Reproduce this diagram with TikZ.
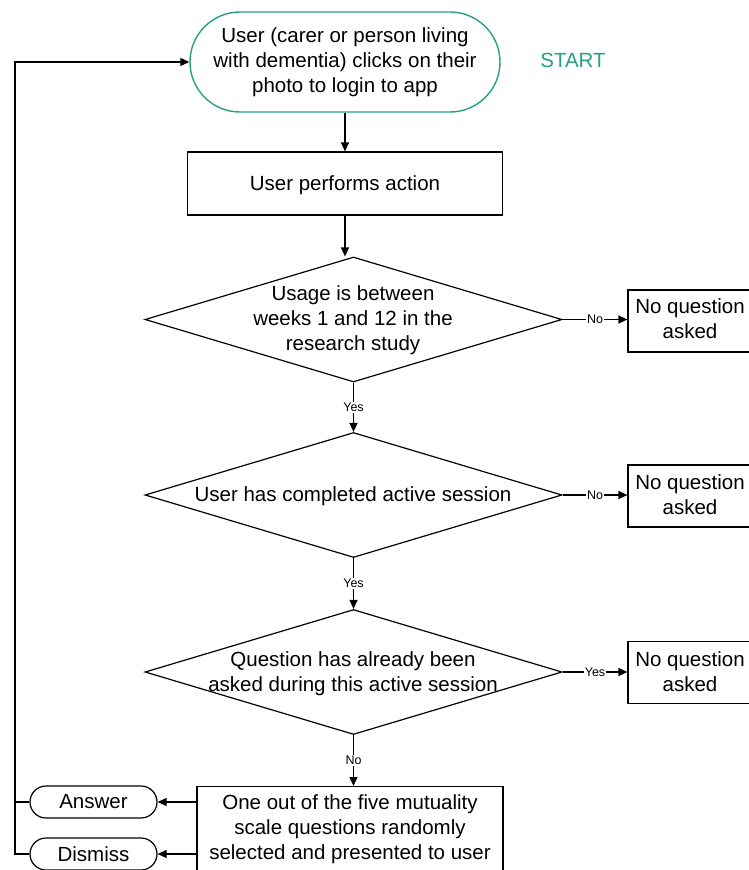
\documentclass[tikz,border=0pt]{standalone}
\usepackage{fontspec}
\setmainfont{Liberation Sans}
\usetikzlibrary{shapes.geometric,shapes.misc,arrows.meta,positioning}
\definecolor{teal1}{RGB}{40,160,130}
\tikzset{
  base/.style={font=\fontsize{20.5}{25}\selectfont, align=center, inner sep=0pt},
  term/.style={base, rounded rectangle, draw=teal1, line width=1.4pt, minimum width=310pt, minimum height=100pt},
  box/.style={base, rectangle, draw, line width=1.2pt},
  dia/.style={diamond, draw, line width=1.2pt, minimum width=417pt, minimum height=125pt, inner sep=0pt},
  dtext/.style={base},
  side/.style={box, minimum width=142pt, minimum height=62pt},
  outc/.style={base, rounded rectangle, draw, line width=1.2pt, minimum width=127pt, minimum height=32pt},
  conn/.style={line width=1.2pt, -{Triangle[length=9pt,width=8pt]}},
  plain/.style={line width=1.2pt},
  lab/.style={font=\fontsize{12.5}{14}\selectfont, fill=white, inner sep=1pt}
}
\begin{document}
\begin{tikzpicture}[x=1pt,y=-1pt]
\useasboundingbox (0,0) rectangle (748,870);
% nodes
\node[term] (start) at (345,62) {User (carer or person living\\with dementia) clicks on their\\photo to login to app};
\node[base, text=teal1] (startlbl) at (573,60) {START};
\node[box, minimum width=315pt, minimum height=63pt] (act) at (345,183.5) {};
\node[base] (actt) at (345,185) {User performs action};
\node[dia] (d1) at (353.5,319.5) {};
\node[dtext] (d1t) at (353,320) {Usage is between\\weeks 1 and 12 in the\\research study};
\node[dia] (d2) at (353.5,495) {};
\node[dtext] (d2t) at (353,496) {User has completed active session};
\node[dia] (d3) at (353.5,672) {};
\node[dtext] (d3t) at (353,674) {Question has already been\\asked during this active session};
\node[side] (n1) at (699,321) {};
\node[base] (n1t) at (690,319) {No question\\asked};
\node[side] (n2) at (699,496) {};
\node[base] (n2t) at (690,495) {No question\\asked};
\node[side] (n3) at (699,672.5) {};
\node[base] (n3t) at (690,671.5) {No question\\asked};
\node[box, minimum width=306pt, minimum height=86pt, anchor=north] (q) at (350,786) {};
\node[base] (qt) at (350,829) {One out of the five mutuality\\scale questions randomly\\selected and presented to user};
\node[outc] (ans) at (93.5,802) {Answer};
\node[outc] (dis) at (93.5,854) {Dismiss};
\coordinate (loopb) at (15,854);
\coordinate (loopa) at (15,802);
\coordinate (loopt) at (15,62);
% connectors
\draw[conn] (start.south) -- (act.north);
\draw[conn] (act.south) -- (act.south |- d1.north);
\draw[conn] (d1.south) -- node[lab]{Yes} (d2.north);
\draw[conn] (d2.south) -- node[lab]{Yes} (d3.north);
\draw[conn] (d3.south) -- node[lab]{No} (d3.south |- q.north);
\draw[conn] (d1.east) -- node[lab]{No} (n1.west |- d1.east);
\draw[conn] (d2.east) -- node[lab]{No} (n2.west |- d2.east);
\draw[conn] (d3.east) -- node[lab]{Yes} (n3.west |- d3.east);
\draw[conn] (q.west |- ans.east) -- (ans.east);
\draw[conn] (q.west |- dis.east) -- (dis.east);
\draw[plain] (ans.west) -- (loopa);
\draw[conn] (dis.west) -- (loopb) -- (loopt) -- (start.west);
\end{tikzpicture}
\end{document}
